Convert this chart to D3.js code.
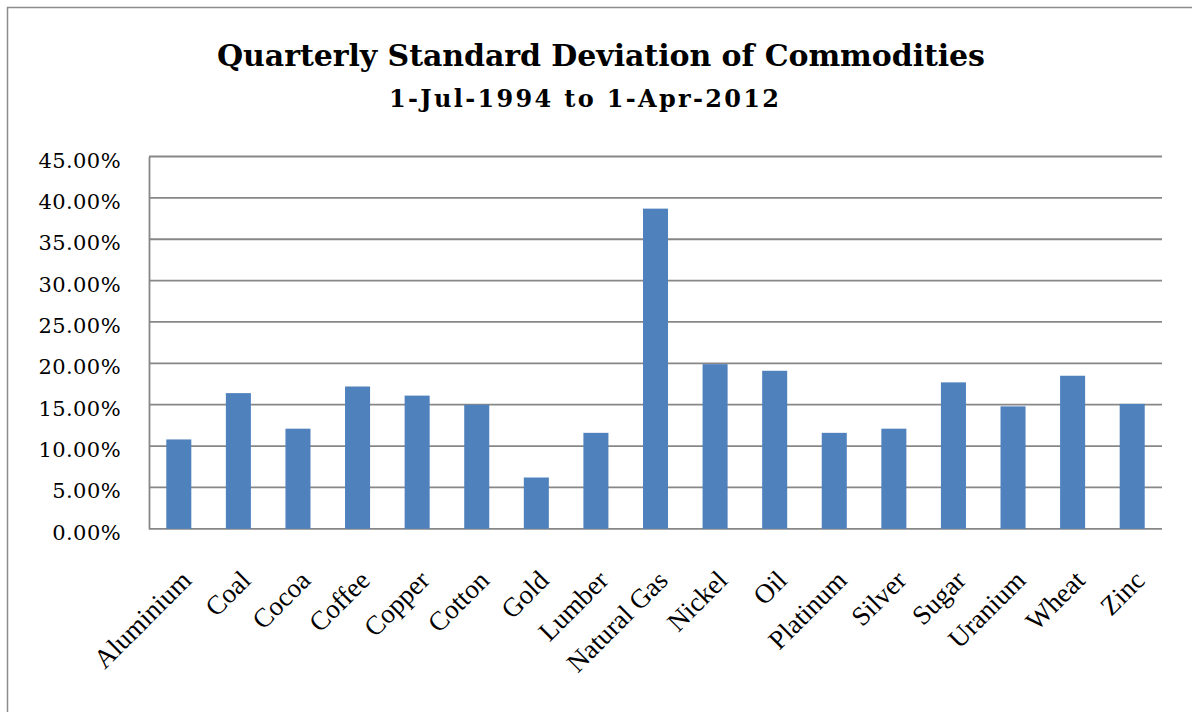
<!DOCTYPE html>
<html>
<head>
<meta charset="utf-8">
<script src="https://cdn.jsdelivr.net/npm/d3@7"></script>
<style>
  body { margin: 0; background: #fff; }
  svg { display: block; }
</style>
</head>
<body>
<script>
const commodities = ['Aluminium','Coal','Cocoa','Coffee','Copper','Cotton','Gold','Lumber','Natural Gas','Nickel','Oil','Platinum','Silver','Sugar','Uranium','Wheat','Zinc'];
const stdDev = [10.8, 16.4, 12.1, 17.2, 16.1, 15.0, 6.2, 11.6, 38.7, 19.9, 19.1, 11.6, 12.1, 17.7, 14.8, 18.5, 15.1];
const yTicks = [0, 5, 10, 15, 20, 25, 30, 35, 40, 45];

const width = 1192;
const height = 712;

const plotLeft = 149;
const plotRight = 1162;
const plotTop = 156.5;
const plotBottom = 528.8;

const svg = d3.select('body')
              .append('svg')
              .attr('width', width)
              .attr('height', height);

//outer frame (cut off at right and bottom)
svg.append('rect')
   .attr('x', 7.5)
   .attr('y', 7.5)
   .attr('width', 1300)
   .attr('height', 800)
   .attr('fill', 'none')
   .attr('stroke', '#8c8c8c')
   .attr('stroke-width', 1.5);

const xScale = d3.scaleBand()
                 .domain(commodities)
                 .range([plotLeft, plotRight])
                 .paddingInner(0.58)
                 .paddingOuter(0.29);

const yScale = d3.scaleLinear()
                 .domain([0, 45])
                 .range([plotBottom, plotTop]);

//gridlines
svg.append('g')
   .selectAll('line')
   .data(yTicks)
   .enter()
   .append('line')
   .attr('x1', plotLeft)
   .attr('x2', plotRight)
   .attr('y1', d => yScale(d))
   .attr('y2', d => yScale(d))
   .attr('stroke', '#878787')
   .attr('stroke-width', 1.8);

//y axis
const yAxis = d3.axisLeft(yScale)
                .tickValues(yTicks)
                .tickSize(0)
                .tickPadding(28)
                .tickFormat(d => d.toFixed(2) + '%');

const yG = svg.append('g')
              .attr('transform', 'translate(' + plotLeft + ',0)')
              .call(yAxis);
yG.select('.domain')
  .attr('stroke', '#878787')
  .attr('stroke-width', 1.8);
yG.selectAll('text')
  .attr('font-family', 'DejaVu Serif')
  .attr('font-size', 21)
  .attr('letter-spacing', 0.4)
  .attr('fill', '#000')
  .attr('dy', '0.5em');

//bars
svg.append('g')
   .selectAll('rect')
   .data(stdDev)
   .enter()
   .append('rect')
   .attr('x', (d, i) => xScale(commodities[i]))
   .attr('width', xScale.bandwidth())
   .attr('y', d => yScale(d))
   .attr('height', d => plotBottom - yScale(d))
   .attr('fill', '#4f81bd');

//x labels
svg.append('g')
   .selectAll('text')
   .data(commodities)
   .enter()
   .append('text')
   .text(d => d)
   .attr('font-family', 'Liberation Serif')
   .attr('font-size', 27)
   .attr('text-anchor', 'end')
   .attr('transform', d => 'translate(' + (xScale(d) + xScale.bandwidth() / 2 + 14) + ',' + 582 + ') rotate(-45)');

//titles
svg.append('text')
   .text('Quarterly Standard Deviation of Commodities')
   .attr('x', 601)
   .attr('y', 66)
   .attr('text-anchor', 'middle')
   .attr('font-family', 'DejaVu Serif')
   .attr('font-weight', 'bold')
   .attr('font-size', 30)
   .attr('textLength', 768)
   .attr('lengthAdjust', 'spacing');

svg.append('text')
   .text('1-Jul-1994 to 1-Apr-2012')
   .attr('x', 584)
   .attr('y', 107)
   .attr('text-anchor', 'middle')
   .attr('font-family', 'DejaVu Serif')
   .attr('font-weight', 'bold')
   .attr('font-size', 24)
   .attr('textLength', 390)
   .attr('lengthAdjust', 'spacing');
</script>
</body>
</html>
